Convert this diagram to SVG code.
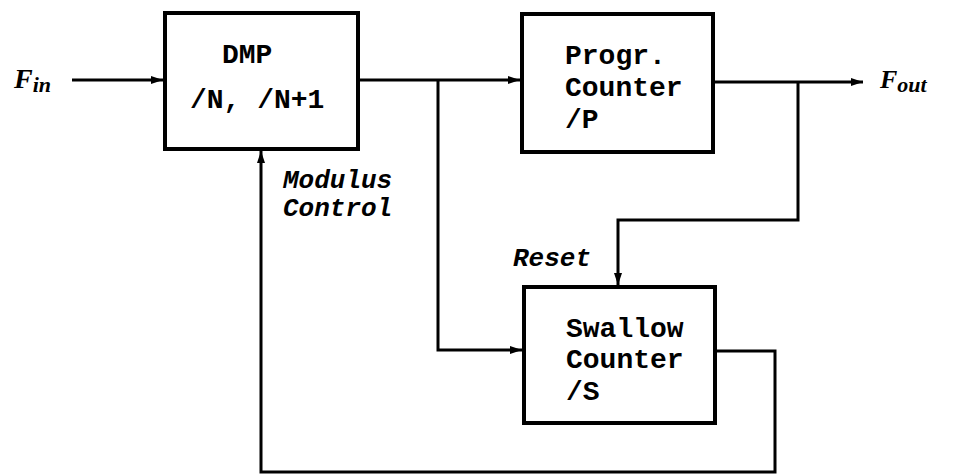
<svg xmlns="http://www.w3.org/2000/svg" width="954" height="476" viewBox="0 0 954 476">
  <style>
    .box { fill: none; stroke: #000; stroke-width: 4; }
    .wire { fill: none; stroke: #000; stroke-width: 3; }
    .lbl { font-family: "Liberation Mono", "DejaVu Sans Mono", monospace; font-weight: bold; font-size: 28px; fill: #000; }
    .ital { font-family: "Liberation Mono", "DejaVu Sans Mono", monospace; font-weight: bold; font-style: italic; font-size: 26px; fill: #000; }
    .sig { font-family: "Liberation Serif", "DejaVu Serif", serif; font-weight: bold; font-style: italic; fill: #000; }
  </style>
  <defs>
    <marker id="arr" viewBox="0 0 12 10" refX="12" refY="5" markerWidth="12" markerHeight="10" markerUnits="userSpaceOnUse" orient="auto">
      <path d="M0,1 L12,5 L0,9 Z" fill="#000"/>
    </marker>
  </defs>
  <rect width="954" height="476" fill="#fff"/>

  <g id="connectors">
    <!-- input to prescaler -->
    <path class="wire" d="M72,80 H163" marker-end="url(#arr)"/>
    <!-- prescaler to programmable counter -->
    <path class="wire" d="M359,80 H520" marker-end="url(#arr)"/>
    <!-- branch to swallow counter -->
    <path class="wire" d="M438,80 V350 H522" marker-end="url(#arr)"/>
    <!-- programmable counter output -->
    <path class="wire" d="M714,82 H863" marker-end="url(#arr)"/>
    <!-- reset feedback -->
    <path class="wire" d="M798,82 V220 H618 V285" marker-end="url(#arr)"/>
    <!-- modulus control loop -->
    <path class="wire" d="M716,351 H775 V472 H261 V151" marker-end="url(#arr)"/>
  </g>

  <g id="dmp">
    <rect class="box" x="165" y="13" width="193" height="136"/>
    <text class="lbl" x="222" y="63">DMP</text>
    <text class="lbl" x="190" y="108">/N, /N+1</text>
  </g>

  <g id="progr-counter">
    <rect class="box" x="522" y="14" width="191" height="138"/>
    <text class="lbl" x="565" y="64">Progr.</text>
    <text class="lbl" x="565" y="96">Counter</text>
    <text class="lbl" x="565" y="128">/P</text>
  </g>

  <g id="swallow-counter">
    <rect class="box" x="524" y="287" width="191" height="136"/>
    <text class="lbl" x="566" y="337">Swallow</text>
    <text class="lbl" x="566" y="368">Counter</text>
    <text class="lbl" x="566" y="400">/S</text>
  </g>

  <g id="labels">
    <text class="sig" x="14" y="88" font-size="28">F<tspan font-size="22" dy="4">in</tspan></text>
    <text class="sig" x="880" y="88" font-size="26">F<tspan font-size="22" dy="4">out</tspan></text>
    <text class="ital" x="283" y="188">Modulus</text>
    <text class="ital" x="283" y="216">Control</text>
    <text class="ital" x="513" y="266">Reset</text>
  </g>
</svg>
